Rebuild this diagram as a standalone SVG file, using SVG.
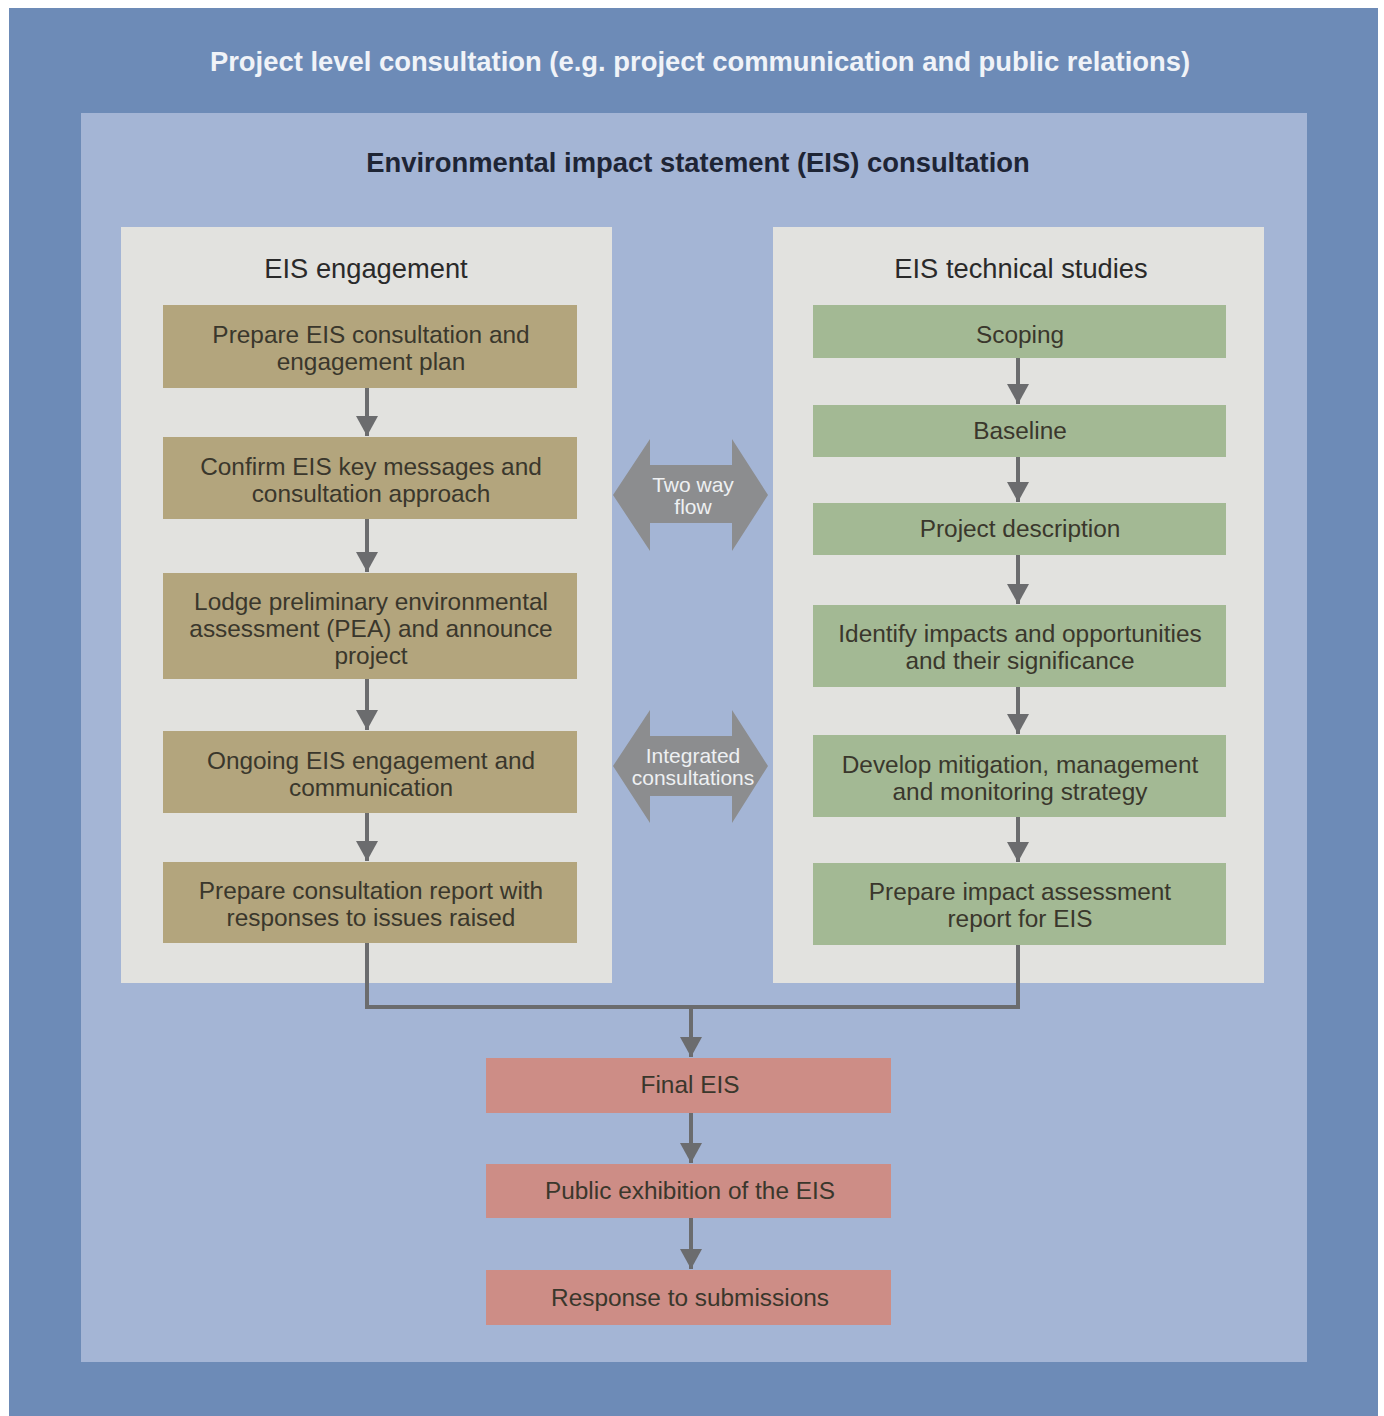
<svg xmlns="http://www.w3.org/2000/svg" width="1384" height="1416" viewBox="0 0 1384 1416">
<defs>
<style>
.t{font-family:"Liberation Sans",Arial,sans-serif;text-anchor:middle}
.bx{font-size:24.4px;fill:#3a372c}
.tan{fill:#b3a57d}
.grn{fill:#a3b994}
.pnk{fill:#cd8d86}
.pnl{fill:#e2e2df}
.hd{font-size:27.3px;fill:#2a2a2a}
.conn{stroke:#6b6c6e;stroke-width:4;fill:none}
.two{fill:#8c8d8f}
.twt{font-size:21px;fill:#eef0f2}
</style>
<marker id="ah" viewBox="0 0 20 22" refX="20" refY="11" markerWidth="20" markerHeight="22" markerUnits="userSpaceOnUse" orient="auto">
<path d="M0,0 L20,11 L0,22 z" fill="#6b6c6e"/>
</marker>
</defs>
<rect x="0" y="0" width="1384" height="1416" fill="#ffffff"/>
<g id="outer">
<rect x="9" y="8" width="1369" height="1408" fill="#6d8bb7"/>
<text class="t" x="700" y="71" font-size="27.4" font-weight="bold" fill="#f0f3f8">Project level consultation (e.g. project communication and public relations)</text>
</g>
<g id="eis-consultation">
<rect x="81" y="113" width="1226" height="1249" fill="#a4b5d5"/>
<text class="t" x="698" y="172" font-size="27.4" font-weight="bold" fill="#1e2535">Environmental impact statement (EIS) consultation</text>
</g>
<g id="panel-engagement">
<rect class="pnl" x="121" y="227" width="491" height="756"/>
<text class="t hd" x="366" y="278">EIS engagement</text>
</g>
<g id="panel-technical">
<rect class="pnl" x="773" y="227" width="491" height="756"/>
<text class="t hd" x="1021" y="278">EIS technical studies</text>
</g>
<g id="connectors">
<line class="conn" x1="367" y1="388" x2="367" y2="436" marker-end="url(#ah)"/>
<line class="conn" x1="367" y1="519" x2="367" y2="572" marker-end="url(#ah)"/>
<line class="conn" x1="367" y1="679" x2="367" y2="730" marker-end="url(#ah)"/>
<line class="conn" x1="367" y1="813" x2="367" y2="861" marker-end="url(#ah)"/>
<line class="conn" x1="1018" y1="358" x2="1018" y2="404" marker-end="url(#ah)"/>
<line class="conn" x1="1018" y1="457" x2="1018" y2="502" marker-end="url(#ah)"/>
<line class="conn" x1="1018" y1="555" x2="1018" y2="604" marker-end="url(#ah)"/>
<line class="conn" x1="1018" y1="687" x2="1018" y2="734" marker-end="url(#ah)"/>
<line class="conn" x1="1018" y1="817" x2="1018" y2="862" marker-end="url(#ah)"/>
<path class="conn" d="M367,943 V1007 H1018 V945"/>
<line class="conn" x1="691" y1="1007" x2="691" y2="1057" marker-end="url(#ah)"/>
<line class="conn" x1="691" y1="1113" x2="691" y2="1163" marker-end="url(#ah)"/>
<line class="conn" x1="691" y1="1218" x2="691" y2="1269" marker-end="url(#ah)"/>
</g>
<g id="two-way-flow">
<polygon class="two" points="613,495 650,439 650,465 732,465 732,439 768,495 732,551 732,523 650,523 650,551"/>
<text class="t twt" x="693" y="492">Two way</text>
<text class="t twt" x="693" y="514">flow</text>
</g>
<g id="integrated-consultations">
<polygon class="two" points="613,766 650,710 650,736 732,736 732,710 768,766 732,823 732,796 650,796 650,823"/>
<text class="t twt" x="693" y="763">Integrated</text>
<text class="t twt" x="693" y="785">consultations</text>
</g>
<g id="prepare-plan">
<rect class="tan" x="163" y="305" width="414" height="83"/>
<text class="t bx" x="371" y="343">Prepare EIS consultation and</text>
<text class="t bx" x="371" y="370">engagement plan</text>
</g>
<g id="confirm-messages">
<rect class="tan" x="163" y="437" width="414" height="82"/>
<text class="t bx" x="371" y="475">Confirm EIS key messages and</text>
<text class="t bx" x="371" y="502">consultation approach</text>
</g>
<g id="lodge-pea">
<rect class="tan" x="163" y="573" width="414" height="106"/>
<text class="t bx" x="371" y="610">Lodge preliminary environmental</text>
<text class="t bx" x="371" y="637">assessment (PEA) and announce</text>
<text class="t bx" x="371" y="664">project</text>
</g>
<g id="ongoing-engagement">
<rect class="tan" x="163" y="731" width="414" height="82"/>
<text class="t bx" x="371" y="769">Ongoing EIS engagement and</text>
<text class="t bx" x="371" y="796">communication</text>
</g>
<g id="consultation-report">
<rect class="tan" x="163" y="862" width="414" height="81"/>
<text class="t bx" x="371" y="899">Prepare consultation report with</text>
<text class="t bx" x="371" y="926">responses to issues raised</text>
</g>
<g id="scoping">
<rect class="grn" x="813" y="305" width="413" height="53"/>
<text class="t bx" x="1020" y="343">Scoping</text>
</g>
<g id="baseline">
<rect class="grn" x="813" y="405" width="413" height="52"/>
<text class="t bx" x="1020" y="439">Baseline</text>
</g>
<g id="project-description">
<rect class="grn" x="813" y="503" width="413" height="52"/>
<text class="t bx" x="1020" y="537">Project description</text>
</g>
<g id="identify-impacts">
<rect class="grn" x="813" y="605" width="413" height="82"/>
<text class="t bx" x="1020" y="642">Identify impacts and opportunities</text>
<text class="t bx" x="1020" y="669">and their significance</text>
</g>
<g id="develop-mitigation">
<rect class="grn" x="813" y="735" width="413" height="82"/>
<text class="t bx" x="1020" y="773">Develop mitigation, management</text>
<text class="t bx" x="1020" y="800">and monitoring strategy</text>
</g>
<g id="impact-report">
<rect class="grn" x="813" y="863" width="413" height="82"/>
<text class="t bx" x="1020" y="900">Prepare impact assessment</text>
<text class="t bx" x="1020" y="927">report for EIS</text>
</g>
<g id="final-eis">
<rect class="pnk" x="486" y="1058" width="405" height="55"/>
<text class="t bx" x="690" y="1093">Final EIS</text>
</g>
<g id="public-exhibition">
<rect class="pnk" x="486" y="1164" width="405" height="54"/>
<text class="t bx" x="690" y="1199">Public exhibition of the EIS</text>
</g>
<g id="response-submissions">
<rect class="pnk" x="486" y="1270" width="405" height="55"/>
<text class="t bx" x="690" y="1306">Response to submissions</text>
</g>
</svg>
